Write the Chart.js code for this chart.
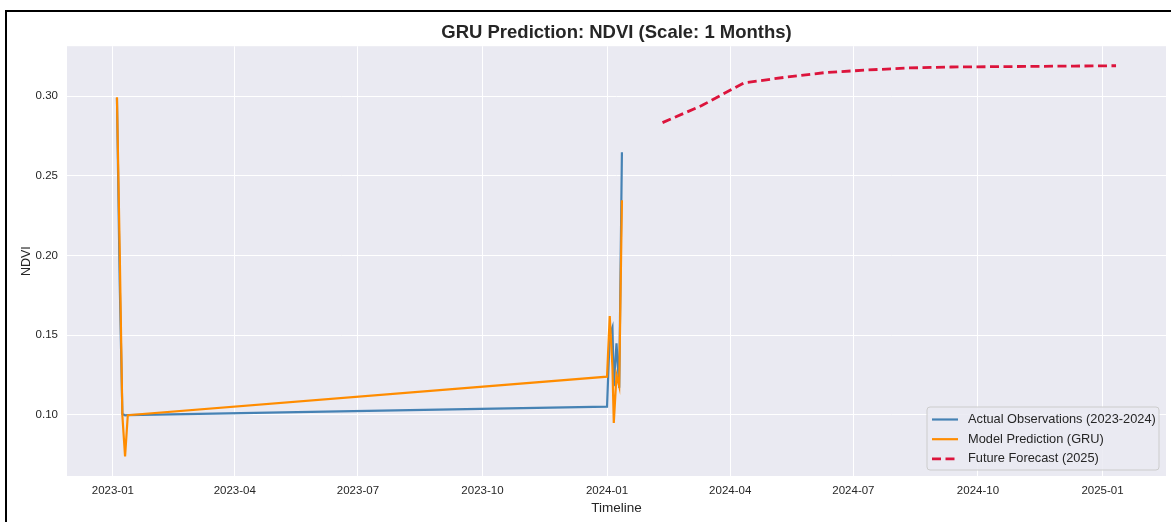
<!DOCTYPE html>
<html>
<head>
<meta charset="utf-8">
<script src="https://cdn.jsdelivr.net/npm/chart.js@4"></script>
<style>
  html, body { margin: 0; padding: 0; background: #fff; overflow: hidden; }
  #wrap { position: relative; width: 1171px; height: 522px; }
  #frame { position: absolute; left: 5px; top: 10px; width: 1200px; height: 600px; border: 2px solid #000; pointer-events: none; }
</style>
</head>
<body>
<div id="wrap">
  <canvas id="ndviChart" width="1171" height="522"></canvas>
  <div id="frame"></div>
</div>
<script>
// observation dates (the two short windows that were measured)
const obsDates = ['2023-01-04', '2023-01-06', '2023-01-08', '2023-01-10', '2023-01-12',
                  '2024-01-01', '2024-01-03', '2024-01-05', '2024-01-06', '2024-01-08', '2024-01-10', '2024-01-12'];
const actualNdvi = [0.299, 0.185, 0.1005, 0.0997, 0.0998,
                    0.1052, 0.150, 0.155, 0.118, 0.145, 0.117, 0.2649];
const predictedNdvi = [0.2994, 0.205, 0.0995, 0.0739, 0.0998,
                       0.1240, 0.162, 0.130, 0.095, 0.125, 0.118, 0.2347];

// monthly forecast
const forecastDates = ['2024-02-11', '2024-03-11', '2024-04-11', '2024-05-11', '2024-06-11', '2024-07-11',
                       '2024-08-11', '2024-09-11', '2024-10-11', '2024-11-11', '2024-12-11', '2025-01-11'];
const forecastNdvi = [0.2835, 0.2942, 0.3084, 0.3119, 0.3150, 0.3165,
                      0.3178, 0.3184, 0.3186, 0.3188, 0.3190, 0.3192];

const xTickLabels = ['2023-01', '2023-04', '2023-07', '2023-10', '2024-01', '2024-04', '2024-07', '2024-10', '2025-01'];
const yTickValues = [0.10, 0.15, 0.20, 0.25, 0.30];

const seriesLabels = ['Actual Observations (2023-2024)', 'Model Prediction (GRU)', 'Future Forecast (2025)'];

function toPoints(dates, values) {
    return dates.map((d, i) => ({ x: Date.parse(d), y: values[i] }));
}

function monthTick(label) {
    const parts = label.split('-');
    return Date.UTC(parseInt(parts[0]), parseInt(parts[1]) - 1, 1);
}

// matplotlib-style 5% margins around the data
const allX = obsDates.concat(forecastDates).map(d => Date.parse(d));
const allY = actualNdvi.concat(predictedNdvi, forecastNdvi);
const xMin = Math.min(...allX), xMax = Math.max(...allX);
const yMin = Math.min(...allY), yMax = Math.max(...allY);
const xPad = (xMax - xMin) * 0.05, yPad = (yMax - yMin) * 0.05;

const fontFamily = "'Liberation Sans', Arial, sans-serif";
const tickFont = { family: fontFamily, size: 11.5 };
const textColor = '#262626';

// grey plot background like seaborn darkgrid
const plotBackground = {
    id: 'plotBackground',
    beforeDraw(chart) {
        const { ctx, chartArea } = chart;
        ctx.save();
        ctx.fillStyle = '#EAEAF2';
        ctx.fillRect(chartArea.left, chartArea.top, chartArea.right - chartArea.left, chartArea.bottom - chartArea.top);
        ctx.restore();
    }
};

// legend box in the lower right corner of the plot
const innerLegend = {
    id: 'innerLegend',
    afterDraw(chart) {
        const { ctx, chartArea } = chart;
        const w = 232, h = 63;
        const x = chartArea.right - 7 - w;
        const y = chartArea.bottom - 6 - h;
        ctx.save();
        ctx.beginPath();
        ctx.roundRect(x, y, w, h, 3);
        ctx.fillStyle = 'rgba(234,234,242,0.85)';
        ctx.fill();
        ctx.strokeStyle = '#cccccc';
        ctx.lineWidth = 1;
        ctx.stroke();
        ctx.font = "12.8px " + fontFamily;
        ctx.textBaseline = 'middle';
        chart.data.datasets.forEach((ds, i) => {
            const rowY = y + 12.5 + i * 19.7;
            ctx.beginPath();
            ctx.setLineDash(ds.borderDash || []);
            ctx.strokeStyle = ds.borderColor;
            ctx.lineWidth = ds.borderWidth;
            ctx.moveTo(x + 5, rowY);
            ctx.lineTo(x + 31, rowY);
            ctx.stroke();
            ctx.setLineDash([]);
            ctx.fillStyle = textColor;
            ctx.fillText(ds.label, x + 41, rowY);
        });
        ctx.restore();
    }
};

const ctx = document.getElementById('ndviChart').getContext('2d');
new Chart(ctx, {
    type: 'line',
    data: {
        datasets: [
            {
                label: seriesLabels[0],
                data: toPoints(obsDates, actualNdvi),
                borderColor: '#4682B4',
                borderWidth: 2.2,
                order: 2
            },
            {
                label: seriesLabels[1],
                data: toPoints(obsDates, predictedNdvi),
                borderColor: '#FF8C00',
                borderWidth: 2.2,
                order: 1
            },
            {
                label: seriesLabels[2],
                data: toPoints(forecastDates, forecastNdvi),
                borderColor: '#DC143C',
                borderWidth: 2.8,
                borderDash: [9, 4.5],
                order: 0
            }
        ]
    },
    options: {
        responsive: false,
        animation: false,
        devicePixelRatio: 1,
        layout: { padding: { left: 0, right: 5, top: 0, bottom: 0 } },
        elements: {
            point: { radius: 0, hoverRadius: 0 },
            line: { tension: 0, fill: false }
        },
        plugins: {
            legend: { display: false },
            tooltip: { enabled: false },
            title: {
                display: true,
                fullSize: false,
                text: 'GRU Prediction: NDVI (Scale: 1 Months)',
                color: textColor,
                font: { family: fontFamily, size: 18.5, weight: 'bold' },
                padding: { top: 22, bottom: 2 }
            }
        },
        scales: {
            x: {
                type: 'linear',
                min: xMin - xPad,
                max: xMax + xPad,
                afterBuildTicks: scale => {
                    scale.ticks = xTickLabels.map(l => ({ value: monthTick(l) }));
                },
                afterFit: scale => { scale.height = 46; },
                ticks: {
                    color: textColor,
                    font: tickFont,
                    padding: 8,
                    maxRotation: 0,
                    autoSkip: false,
                    callback: value => {
                        const i = xTickLabels.findIndex(l => monthTick(l) === value);
                        return i >= 0 ? xTickLabels[i] : '';
                    }
                },
                grid: { color: '#ffffff', lineWidth: 1, drawTicks: false },
                border: { display: false },
                title: {
                    display: true,
                    text: 'Timeline',
                    color: textColor,
                    font: { family: fontFamily, size: 13.5 },
                    padding: { top: 0, bottom: 6 }
                }
            },
            y: {
                type: 'linear',
                min: yMin - yPad,
                max: yMax + yPad,
                afterBuildTicks: scale => {
                    scale.ticks = yTickValues.map(v => ({ value: v }));
                },
                afterFit: scale => { scale.width = 67; },
                ticks: {
                    color: textColor,
                    font: tickFont,
                    padding: 9,
                    callback: value => value.toFixed(2)
                },
                grid: { color: '#ffffff', lineWidth: 1, drawTicks: false },
                border: { display: false },
                title: {
                    display: true,
                    text: 'NDVI',
                    color: textColor,
                    font: { family: fontFamily, size: 12.5 },
                    padding: { top: 19, bottom: 0 }
                }
            }
        }
    },
    plugins: [plotBackground, innerLegend]
});
</script>
</body>
</html>
